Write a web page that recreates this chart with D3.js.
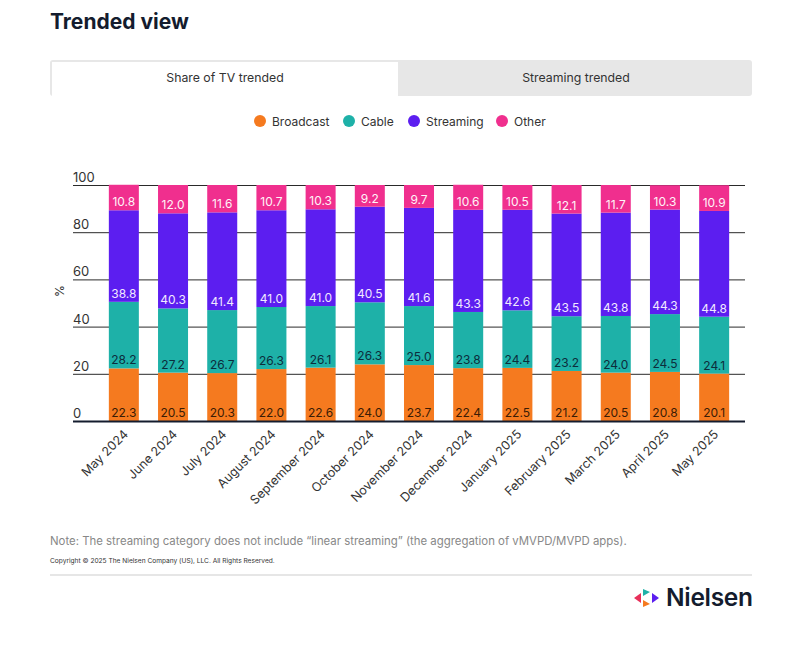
<!DOCTYPE html>
<html>
<head>
<meta charset="utf-8">
<script src="https://cdn.jsdelivr.net/npm/d3@7"></script>
<style>
  body { margin: 0; background: #fff; font-family: Inter, "Noto Sans", sans-serif; }
  svg { display: block; }
</style>
</head>
<body>
<svg id="chart" width="800" height="646"></svg>
<script>
// data
var months = ["May 2024", "June 2024", "July 2024", "August 2024", "September 2024", "October 2024",
  "November 2024", "December 2024", "January 2025", "February 2025", "March 2025", "April 2025", "May 2025"];
var broadcast = [22.3, 20.5, 20.3, 22.0, 22.6, 24.0, 23.7, 22.4, 22.5, 21.2, 20.5, 20.8, 20.1];
var cable     = [28.2, 27.2, 26.7, 26.3, 26.1, 26.3, 25.0, 23.8, 24.4, 23.2, 24.0, 24.5, 24.1];
var streaming = [38.8, 40.3, 41.4, 41.0, 41.0, 40.5, 41.6, 43.3, 42.6, 43.5, 43.8, 44.3, 44.8];
var other     = [10.8, 12.0, 11.6, 10.7, 10.3, 9.2, 9.7, 10.6, 10.5, 12.1, 11.7, 10.3, 10.9];
var seriesNames = ["Broadcast", "Cable", "Streaming", "Other"];
var yTicks = [0, 20, 40, 60, 80, 100];

var colors = { Broadcast: "#f57a1f", Cable: "#1eb1a8", Streaming: "#5c1ef0", Other: "#f02f8e" };
var labelColors = { Broadcast: "#3a1c05", Cable: "#0c2d3c", Streaming: "#f1e9ff", Other: "#fff3f8" };

var svg = d3.select("#chart");

// title
svg.append("text").attr("x", 50).attr("y", 29)
  .attr("font-size", 21).attr("font-weight", 700).attr("fill", "#141c2e")
  .text("Trended view");

// tabs
svg.append("rect").attr("x", 50).attr("y", 60).attr("width", 702).attr("height", 36)
  .attr("rx", 3).attr("fill", "#e7e7e7");
svg.append("rect").attr("x", 52).attr("y", 62).attr("width", 346).attr("height", 36)
  .attr("fill", "#fff");
svg.append("text").attr("x", 225).attr("y", 82).attr("text-anchor", "middle")
  .attr("font-size", 12.3).attr("fill", "#333").text("Share of TV trended");
svg.append("text").attr("x", 576).attr("y", 82).attr("text-anchor", "middle")
  .attr("font-size", 12.3).attr("fill", "#333").text("Streaming trended");

// legend
var legendX = [260, 349, 414, 502];
var legend = svg.append("g").selectAll("g").data(seriesNames).enter().append("g")
  .attr("transform", function(d, i) { return "translate(" + legendX[i] + ",121)"; });
legend.append("circle").attr("r", 6).attr("fill", function(d) { return colors[d]; });
legend.append("text").attr("x", 12).attr("y", 4.5).attr("font-size", 12).attr("fill", "#333")
  .text(function(d) { return d; });

// scales
var x = d3.scaleBand().domain(months).range([99, 739]).paddingInner(0.39).paddingOuter(0.2);
var y = d3.scaleLinear().domain([0, 100]).range([421, 185]);

// gridlines + y labels
var grid = svg.append("g").selectAll("g").data(yTicks).enter().append("g");
grid.filter(function(d) { return d > 0; }).append("line")
  .attr("x1", 73).attr("x2", 745)
  .attr("y1", function(d) { return y(d) + 0.5; }).attr("y2", function(d) { return y(d) + 0.5; })
  .attr("stroke", "#2a2a2a").attr("stroke-width", 1);
grid.append("text").attr("x", 73).attr("y", function(d) { return y(d) - 3; })
  .attr("font-size", 13).attr("fill", "#333").text(function(d) { return d; });

svg.append("text").attr("transform", "translate(64,291) rotate(-90)")
  .attr("text-anchor", "middle").attr("font-size", 12).attr("fill", "#333").text("%");

// stacked bars
var table = months.map(function(m, i) {
  return { month: m, Broadcast: broadcast[i], Cable: cable[i], Streaming: streaming[i], Other: other[i] };
});
var stacked = d3.stack().keys(seriesNames)(table);

var layers = svg.append("g").selectAll("g").data(stacked).enter().append("g");
layers.selectAll("rect").data(function(d) { return d; }).enter().append("rect")
  .attr("x", function(d) { return x(d.data.month); })
  .attr("width", x.bandwidth())
  .attr("y", function(d) { return y(d[1]); })
  .attr("height", function(d) { return y(d[0]) - y(d[1]); })
  .attr("fill", function() { return colors[d3.select(this.parentNode).datum().key]; });

layers.each(function(s) {
  d3.select(this).selectAll("text").data(s).enter().append("text")
    .attr("x", function(d) { return x(d.data.month) + x.bandwidth() / 2; })
    .attr("y", function(d) { return y(d[0]) - 4; })
    .attr("text-anchor", "middle").attr("font-size", 12)
    .attr("fill", labelColors[s.key])
    .text(function(d) { return (d[1] - d[0]).toFixed(1); });
});

// x axis
svg.append("line").attr("x1", 73).attr("x2", 745).attr("y1", 421.5).attr("y2", 421.5)
  .attr("stroke", "#141c2e").attr("stroke-width", 2);
svg.append("g").selectAll("text").data(months).enter().append("text")
  .attr("transform", function(d) {
    return "translate(" + (x(d) + x.bandwidth() / 2 + 5) + ",435) rotate(-45)";
  })
  .attr("text-anchor", "end").attr("font-size", 12.5).attr("fill", "#333")
  .text(function(d) { return d; });

// note + footer
svg.append("text").attr("x", 50).attr("y", 545).attr("font-size", 11.4).attr("fill", "#888")
  .text("Note: The streaming category does not include \u201clinear streaming\u201d (the aggregation of vMVPD/MVPD apps).");
svg.append("text").attr("x", 50).attr("y", 563).attr("font-size", 6.6).attr("fill", "#333")
  .text("Copyright \u00a9 2025 The Nielsen Company (US), LLC. All Rights Reserved.");
svg.append("line").attr("x1", 50).attr("x2", 752).attr("y1", 575).attr("y2", 575)
  .attr("stroke", "#e6e6e6").attr("stroke-width", 2);

// logo
var logo = svg.append("g").attr("transform", "translate(646,598)");
logo.append("path").attr("d", "M-12,0 L-5,-5 L-5,5 Z").attr("fill", "#e8305a");
logo.append("path").attr("d", "M-3,-9 L4,-6 L-3,-2 Z").attr("fill", "#1eb1a8");
logo.append("path").attr("d", "M-3,2 L4,6 L-3,9 Z").attr("fill", "#f57a1f");
logo.append("path").attr("d", "M6,-5 L13,0 L6,5 Z").attr("fill", "#5c1ef0");
svg.append("text").attr("x", 666).attr("y", 606).attr("font-size", 24.5).attr("font-weight", 600)
  .attr("fill", "#141c2e").attr("letter-spacing", -0.3).text("Nielsen");
</script>
</body>
</html>
